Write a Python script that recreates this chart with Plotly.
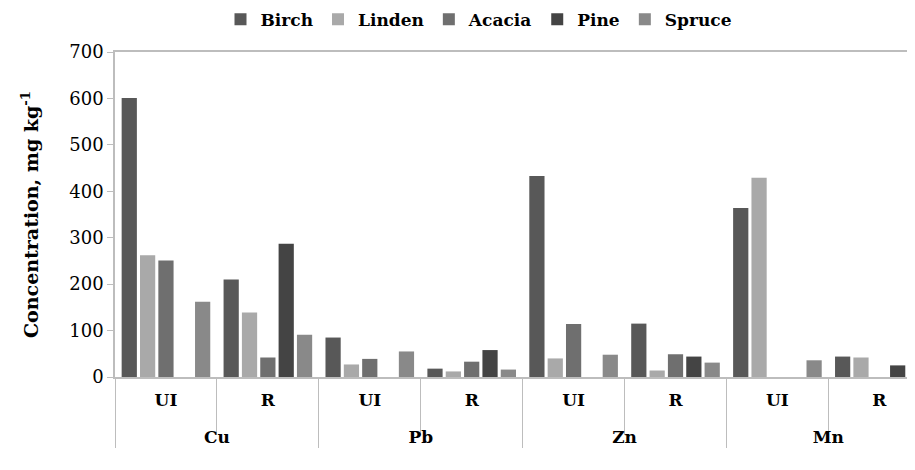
import plotly.graph_objects as go

metals = ["Cu", "Cu", "Pb", "Pb", "Zn", "Zn", "Mn", "Mn"]
sites = ["UI", "R", "UI", "R", "UI", "R", "UI", "R"]

birch = [601, 210, 85, 18, 433, 115, 364, 44]
linden = [262, 139, 27, 12, 40, 14, 429, 42]
acacia = [251, 42, 39, 33, 114, 49, 0, 0]
pine = [0, 287, 0, 58, 0, 44, 0, 25]
spruce = [162, 91, 55, 16, 48, 31, 36, 15]

series = [
    ("Birch", birch, "#585858"),
    ("Linden", linden, "#a9a9a9"),
    ("Acacia", acacia, "#6f6f6f"),
    ("Pine", pine, "#444444"),
    ("Spruce", spruce, "#898989"),
]

outer = ["<br>" + m for m in metals]

fig = go.Figure()
for name, vals, col in series:
    fig.add_trace(go.Bar(
        name=name,
        x=[outer, sites],
        y=vals,
        marker=dict(color=col, line=dict(width=0)),
    ))

serif = "DejaVu Serif"
fig.update_layout(
    width=907, height=454,
    margin=dict(l=107, r=0, t=44, b=85, autoexpand=False),
    paper_bgcolor="white", plot_bgcolor="white",
    barmode="group", bargap=0.1, bargroupgap=0.17,
    font=dict(family=serif, color="black", size=17),
    legend=dict(orientation="h", x=0.455, xanchor="center",
                yref="container", y=0.974, yanchor="middle",
                font=dict(family=serif, size=17, color="black", weight="bold"),
                itemwidth=30, traceorder="normal", tracegroupgap=0),
    showlegend=True,
)
fig.update_xaxes(
    type="multicategory",
    range=[-0.5, 7.35],
    automargin=False,
    showline=True, linecolor="#bdbdbd", linewidth=1.5, mirror=True,
    showgrid=False,
    ticks="outside", tickson="boundaries", ticklen=56, tickcolor="#bdbdbd",
    ticklabelstandoff=7,
    showdividers=True, dividercolor="#bdbdbd", dividerwidth=1,
    tickfont=dict(family=serif, size=17, color="black", weight="bold"),
)
fig.update_yaxes(
    range=[0, 700], dtick=100,
    automargin=False,
    showline=True, linecolor="#bdbdbd", linewidth=1.5,
    showgrid=False, zeroline=False,
    ticks="outside", ticklen=6, tickcolor="#bdbdbd",
    tickfont=dict(family=serif, size=18, color="black"),
    title=dict(text="Concentration, mg kg<sup>-1</sup>",
               font=dict(family=serif, size=19, color="black", weight="bold"),
               standoff=26),
)
fig.write_html("out.html")
